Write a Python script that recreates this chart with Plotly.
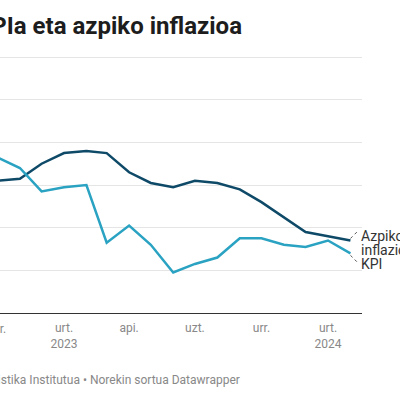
import plotly.graph_objects as go
from datetime import datetime

months = ["2022-10-01", "2022-11-01", "2022-12-01", "2023-01-01", "2023-02-01", "2023-03-01",
          "2023-04-01", "2023-05-01", "2023-06-01", "2023-07-01", "2023-08-01", "2023-09-01",
          "2023-10-01", "2023-11-01", "2023-12-01", "2024-01-01", "2024-02-01"]
kpi = [7.3, 6.8, 5.7, 5.9, 6.0, 3.3, 4.1, 3.2, 1.9, 2.3, 2.6, 3.5, 3.5, 3.2, 3.1, 3.4, 2.8]
azpiko = [6.2, 6.3, 7.0, 7.5, 7.6, 7.5, 6.6, 6.1, 5.9, 6.2, 6.1, 5.8, 5.2, 4.5, 3.8, 3.6, 3.4]

tick_vals = ["2023-01-01", "2023-04-01", "2023-07-01", "2023-10-01", "2024-01-01"]
tick_text = ["urt.<br>2023", "api.", "uzt.", "urr.", "urt.<br>2024"]
y_ticks = [0, 2, 4, 6, 8, 10, 12]

title = "KPIa eta azpiko inflazioa"
source = "Iturria: Espainiako Estatistika Institutua • Norekin sortua Datawrapper"

DARK = "#0e4a68"
LIGHT = "#2aa2c2"
FONT = "Roboto"

x_start = "2022-10-04 12:00"
x_end = "2024-02-17"
y_range = [0, 12.1]

fig = go.Figure()
fig.add_trace(go.Scatter(x=months, y=azpiko, mode="lines", name="Azpiko inflazioa",
                         line=dict(color=DARK, width=2.5), cliponaxis=True))
fig.add_trace(go.Scatter(x=months, y=kpi, mode="lines", name="KPI",
                         line=dict(color=LIGHT, width=2.5), cliponaxis=True))

W, H = 400, 400
ml, mr, mt, mb = 0, 38, 55, 87
pw = W - ml - mr
ph = H - mt - mb
base = H - mb  # pixel row of the baseline

def d(s):
    return datetime.fromisoformat(s)

def xfrac(s):
    return (d(s) - d(x_start)).total_seconds() / (d(x_end) - d(x_start)).total_seconds()

label_font = dict(family=FONT, size=14, color="#333333")

annotations = [
    dict(text="<b>" + title + "</b>", xref="paper", yref="paper", x=244 / pw, y=(base - 26) / ph,
         xanchor="right", yanchor="middle", showarrow=False,
         font=dict(family=FONT, size=24, color="#1d1d1d")),
    dict(text=source, xref="paper", yref="paper", x=242 / pw, y=(base - 380) / ph,
         xanchor="right", yanchor="middle", showarrow=False,
         font=dict(family=FONT, size=12, color="#888888")),
    # partially visible first tick label (Oct 2022)
    dict(text="urr.", xref="paper", yref="paper", x=xfrac(months[0]), y=(base - 329) / ph,
         xanchor="center", yanchor="middle", showarrow=False,
         font=dict(family=FONT, size=12, color="#888888")),
    dict(text="Azpiko", xref="x", yref="y", x=months[-1], y=azpiko[-1],
         xanchor="left", yanchor="middle", xshift=9, yshift=5, showarrow=False, align="left",
         font=label_font),
    dict(text="inflazioa", xref="x", yref="y", x=months[-1], y=azpiko[-1],
         xanchor="left", yanchor="middle", xshift=9, yshift=-9, showarrow=False, align="left",
         font=label_font),
    dict(text="KPI", xref="x", yref="y", x=months[-1], y=kpi[-1],
         xanchor="left", yanchor="middle", xshift=9, yshift=-11, showarrow=False, align="left",
         font=label_font),
]

shapes = [
    dict(type="line", xref="x", yref="y", xsizemode="pixel", ysizemode="pixel",
         xanchor=months[-1], yanchor=azpiko[-1], x0=0, x1=7, y0=2, y1=9,
         line=dict(color="#555555", width=1, dash="dot")),
    dict(type="line", xref="x", yref="y", xsizemode="pixel", ysizemode="pixel",
         xanchor=months[-1], yanchor=kpi[-1], x0=0, x1=7, y0=-2, y1=-9,
         line=dict(color="#555555", width=1, dash="dot")),
]

fig.update_layout(
    width=W, height=H,
    margin=dict(l=ml, r=mr, t=mt, b=mb, pad=0),
    paper_bgcolor="white", plot_bgcolor="white",
    showlegend=False,
    font=dict(family=FONT, size=12, color="#888888"),
    annotations=annotations,
    shapes=shapes,
    xaxis=dict(type="date", range=[x_start, x_end], tickvals=tick_vals, ticktext=tick_text,
               showgrid=False, showline=True, linecolor="#333333", linewidth=1,
               ticks="", ticklabelstandoff=4, tickfont=dict(family=FONT, size=12, color="#888888"),
               zeroline=False, fixedrange=True),
    yaxis=dict(range=y_range, tickvals=y_ticks, showticklabels=False, showgrid=True,
               gridcolor="#e5e5e5", gridwidth=1, zeroline=False, showline=False, ticks="",
               fixedrange=True),
)

fig.write_html("out.html", config={"displayModeBar": False},
               post_script="document.body.style.margin='0px';document.body.style.overflow='hidden';")
